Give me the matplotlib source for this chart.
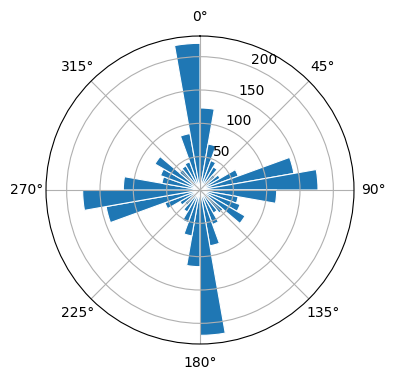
import numpy as np
import matplotlib
matplotlib.use("Agg")
import matplotlib.pyplot as plt

# bin centres (degrees, clockwise from north) and counts
bin_centers_deg = [5, 15, 25, 35, 45, 55, 65, 75, 85,
                   95, 105, 115, 125, 135, 145, 155, 165, 175,
                   185, 195, 205, 215, 225, 235, 245, 255, 265,
                   275, 285, 295, 305, 315, 325, 335, 345, 355]
counts = [123, 70, 47, 40, 30, 35, 61, 143, 177,
          115, 58, 64, 78, 45, 40, 55, 85, 218,
          115, 70, 52, 38, 30, 35, 56, 143, 176,
          115, 58, 63, 78, 40, 42, 45, 86, 220]
bin_width_deg = 10

fig = plt.figure(figsize=(3.96, 3.80), dpi=100)
ax = fig.add_axes([46/396, 36/380, 308/396, 308/380], projection="polar")
ax.set_theta_zero_location("N")
ax.set_theta_direction(-1)

theta = np.deg2rad(bin_centers_deg)
ax.bar(theta, counts, width=np.deg2rad(bin_width_deg), color="#1f77b4",
       edgecolor="white", linewidth=0.8)
ax.set_rticks([50, 100, 150, 200])

fig.savefig("out.png", dpi=100)
